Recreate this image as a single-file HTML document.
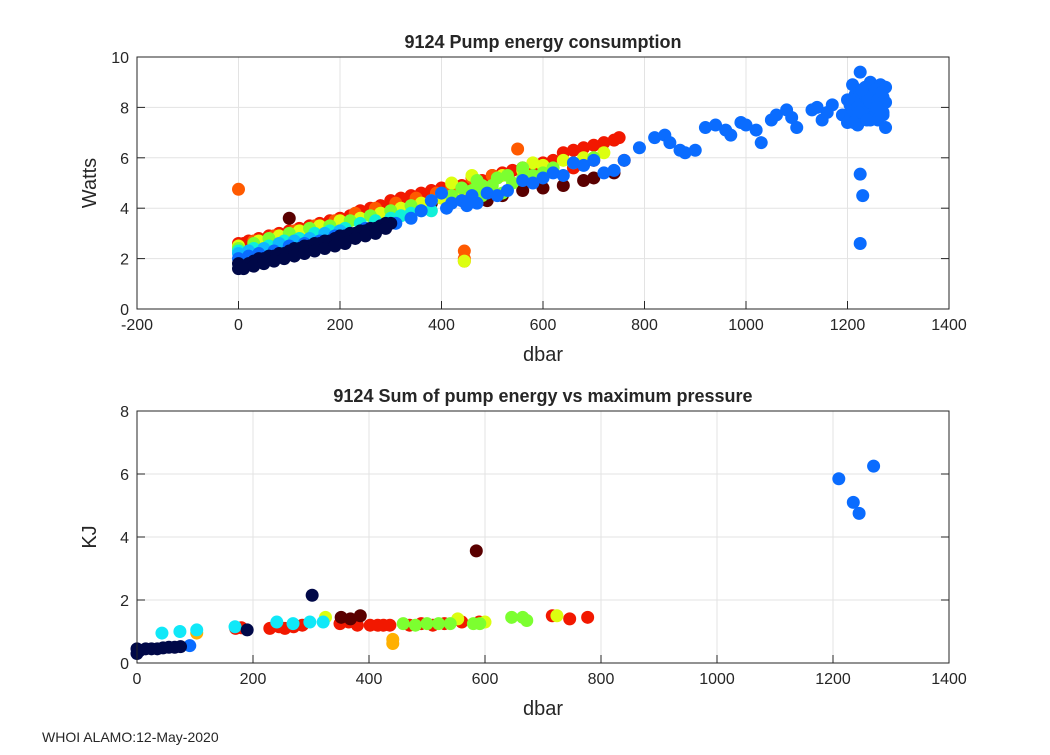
<!DOCTYPE html>
<html><head><meta charset="utf-8"><style>
body{margin:0;background:#fff;}
svg text{font-family:"Liberation Sans",Arial,sans-serif;fill:#262626;}
</style></head><body>
<svg id="fig" width="1050" height="750" viewBox="0 0 1050 750">
<rect width="1050" height="750" fill="#fff"/>
<g id="top"></g>
<g id="bot"></g>
<text x="42" y="742" font-size="14" fill="#000">WHOI ALAMO:12-May-2020</text>
</svg>
<script>
// ---- top chart data ----
const topXTicks = [-200,0,200,400,600,800,1000,1200,1400];
const topYTicks = [0,2,4,6,8,10];
const redX = [0,10,20,40,60,80,100,120,140,160,180,200,220,240,260,280,300,320,340,360,380,400,420,440,460,480,500,520,540,560,580,600,620,640,660,680,700,720,740,750,760,700,660];
const redY = [2.6,2.6,2.7,2.8,2.9,3.0,3.1,3.2,3.3,3.4,3.5,3.6,3.7,3.9,4.0,4.1,4.3,4.4,4.5,4.6,4.7,4.8,4.9,4.9,5.0,5.1,5.3,5.4,5.5,5.6,5.6,5.8,5.9,6.2,6.3,6.4,6.5,6.6,6.7,6.8,5.9,5.9,5.6];
const orangeX = [0,30,70,110,150,190,230,270,310,350,390,430,470,510,550,445,445,445,420,460,500];
const orangeY = [4.75,2.7,2.9,3.1,3.3,3.5,3.8,4.0,4.2,4.4,4.6,4.8,5.0,5.2,6.35,2.3,2.0,1.9,4.9,5.2,5.3];
const maroonX = [100,380,420,460,490,520,560,600,640,680,700,740,280,300];
const maroonY = [3.6,4.2,4.4,4.3,4.3,4.5,4.7,4.8,4.9,5.1,5.2,5.4,3.5,3.6];
const yellowX = [0,40,80,120,160,200,240,280,320,360,400,440,480,520,560,600,640,680,720,445,420,460,580,700];
const yellowY = [2.5,2.7,2.9,3.1,3.3,3.5,3.6,3.8,4.0,4.2,4.4,4.6,4.8,5.3,5.5,5.7,5.9,6.0,6.2,1.9,5.0,5.3,5.8,6.0];
const greenX = [0,30,60,100,140,180,220,260,300,340,380,420,460,480,500,520,540,560,580,600,620,660,700,440,470,480,510,530,560];
const greenY = [2.4,2.6,2.8,3.0,3.2,3.3,3.5,3.7,3.9,4.1,4.3,4.5,4.7,4.5,4.9,4.6,5.0,5.2,5.3,5.4,5.6,5.8,6.0,4.8,5.1,4.9,5.2,5.3,5.6];
const cyanX = [0,30,60,90,120,150,180,210,240,270,300,320,340,360,380,10,40];
const cyanY = [2.3,2.4,2.5,2.7,2.8,3.0,3.1,3.2,3.4,3.5,3.6,3.7,3.8,3.9,3.9,1.9,2.0];
const lblueX = [0,20,50,80,110,140,170,200];
const lblueY = [2.2,2.3,2.4,2.6,2.7,2.8,3.0,3.1];
const blueX = [0,20,40,70,100,130,160,190,220,250,280,310,340,360,380,400,410,420,440,450,460,470,490,510,530,560,580,600,620,640,660,680,700,720,740,760,790,820,840,850,870,880,900,920,940,960,970,990,1000,1020,1030,1050,1060,1080,1090,1100,1130,1140,1150,1160,1170,1190,1200,1205,1210,1215,1220,1225,1230,1235,1240,1245,1250,1255,1260,1265,1270,1275,1200,1210,1220,1230,1240,1250,1260,1270,1275,1205,1215,1225,1235,1245,1255,1265,1275,1210,1220,1230,1240,1250,1260,1270,1225,1230,1225,1228,1222,1245,1258,1268,1212,1238];
const blueY = [2.0,2.1,2.2,2.3,2.5,2.6,2.7,2.9,3.0,3.2,3.3,3.4,3.6,3.9,4.3,4.6,4.0,4.2,4.3,4.1,4.5,4.2,4.6,4.5,4.7,5.1,5.0,5.2,5.4,5.3,5.8,5.7,5.9,5.4,5.5,5.9,6.4,6.8,6.9,6.6,6.3,6.2,6.3,7.2,7.3,7.1,6.9,7.4,7.3,7.1,6.6,7.5,7.7,7.9,7.6,7.2,7.9,8.0,7.5,7.8,8.1,7.7,8.3,7.8,8.0,8.5,7.6,9.4,8.2,8.8,7.9,9.0,8.1,8.6,7.5,8.9,8.4,8.8,7.4,7.9,7.3,8.4,7.6,8.0,8.2,7.7,7.2,8.1,8.3,8.6,8.5,8.2,8.7,7.9,8.2,8.9,8.0,7.8,8.4,7.6,8.3,7.8,5.35,4.5,2.6,8.7,7.8,7.5,8.0,8.6,7.4,7.5];
const navyX = [0,0,10,20,30,40,50,60,70,80,90,100,110,120,130,140,150,160,170,180,190,200,210,220,230,240,250,260,270,280,290,300,10,30,50,70,90,110,130,150,170,190,210,230,250,270,290];
const navyY = [1.6,1.8,1.7,1.8,1.9,2.0,2.0,2.1,2.1,2.2,2.2,2.3,2.4,2.4,2.5,2.5,2.6,2.6,2.7,2.7,2.8,2.9,2.9,3.0,3.0,3.1,3.1,3.2,3.2,3.3,3.4,3.4,1.6,1.7,1.8,1.9,2.0,2.1,2.2,2.3,2.4,2.5,2.6,2.8,2.9,3.0,3.2];
// ---- bottom chart data ----
const botXTicks = [0,200,400,600,800,1000,1200,1400];
const botYTicks = [0,2,4,6,8];
const bRedX = [170,180,229,245,255,270,285,350,365,380,402,415,425,436,470,490,510,530,560,590,716,746,777];
const bRedY = [1.1,1.12,1.1,1.15,1.1,1.15,1.2,1.25,1.3,1.2,1.2,1.2,1.2,1.2,1.2,1.25,1.2,1.25,1.3,1.3,1.5,1.4,1.45];
const bOrangeX = [103,441,441];
const bOrangeY = [0.95,0.75,0.62];
const bMaroonX = [352,368,385,585];
const bMaroonY = [1.45,1.4,1.5,3.56];
const bYellowX = [325,553,600,724];
const bYellowY = [1.45,1.4,1.3,1.5];
const bGreenX = [459,480,500,520,540,580,591,646,665,672];
const bGreenY = [1.25,1.2,1.25,1.25,1.25,1.25,1.25,1.45,1.45,1.35];
const bCyanX = [43,74,103,169,241,269,298,321];
const bCyanY = [0.95,1.0,1.05,1.15,1.3,1.25,1.3,1.3];
const bBlueX = [91,1210,1235,1245,1270];
const bBlueY = [0.55,5.85,5.1,4.75,6.25];
const bNavyX = [0,0,5,15,25,35,45,55,65,75,190,302];
const bNavyY = [0.3,0.45,0.4,0.45,0.45,0.45,0.48,0.5,0.5,0.52,1.05,2.15];

const NS='http://www.w3.org/2000/svg';
function mk(tag,attrs,parent){const e=document.createElementNS(NS,tag);for(const k in attrs)e.setAttribute(k,attrs[k]);parent.appendChild(e);return e;}

function axes(g,L,R,T,B,xmin,xmax,ymin,ymax,xt,yt,title,ylab,prefix){
  const sx=v=>L+(v-xmin)/(xmax-xmin)*(R-L);
  const sy=v=>B-(v-ymin)/(ymax-ymin)*(B-T);
  const bg=mk('rect',{x:L,y:T,width:R-L,height:B-T,fill:'#fff'},g);
  
  
  xt.forEach(v=>{
    const l=mk('line',{x1:sx(v),x2:sx(v),y1:T,y2:B,stroke:'#e3e3e3','stroke-width':1},g);
    
    
    const t=mk('line',{x1:sx(v),x2:sx(v),y1:B,y2:B-8,stroke:'#262626'},g);
    
    
    const tx=mk('text',{x:sx(v),y:B+21,'font-size':16,'text-anchor':'middle'},g);tx.textContent=v;
    
    
  });
  yt.forEach(v=>{
    const l=mk('line',{x1:L,x2:R,y1:sy(v),y2:sy(v),stroke:'#e3e3e3','stroke-width':1},g);
    
    
    const t=mk('line',{x1:L,x2:L+8,y1:sy(v),y2:sy(v),stroke:'#262626'},g);
    
    
    const t2=mk('line',{x1:R,x2:R-8,y1:sy(v),y2:sy(v),stroke:'#262626'},g);
    
    
    const tx=mk('text',{x:L-8,y:sy(v)+6,'font-size':16,'text-anchor':'end'},g);tx.textContent=v;
    
    
  });
  const tt=mk('text',{x:(L+R)/2,y:T-9,'font-size':18,'font-weight':'bold','text-anchor':'middle',fill:'#000'},g);tt.textContent=title;
  
  
  const xl=mk('text',{x:(L+R)/2,y:B+52,'font-size':20,'text-anchor':'middle'},g);xl.textContent='dbar';
  
  
  const yl=mk('text',{x:0,y:0,'font-size':20,'text-anchor':'middle',transform:`translate(96,${(T+B)/2}) rotate(-90)`},g);yl.textContent=ylab;
  
  
  return {sx,sy,finish:()=>{
    const b=mk('rect',{x:L,y:T,width:R-L,height:B-T,fill:'none',stroke:'#262626','stroke-width':1},g);
    
    
  }};
}
function scatter(g,ax,xs,ys,color,name){
  xs.forEach((x,i)=>{
    const c=mk('circle',{cx:ax.sx(x),cy:ax.sy(ys[i]),r:6.5,fill:color},g);
    
    
  });
}
const gt=document.getElementById('top');
const at=axes(gt,137,949,57,309,-200,1400,0,10,topXTicks,topYTicks,'9124 Pump energy consumption','Watts','top');
scatter(gt,at,redX,redY,'#f21800','point-red');
scatter(gt,at,maroonX,maroonY,'#5a0000','point-maroon');
scatter(gt,at,orangeX,orangeY,'#ff5a00','point-orange');
scatter(gt,at,yellowX,yellowY,'#dcff10','point-yellow');
scatter(gt,at,greenX,greenY,'#7cff30','point-green');
scatter(gt,at,cyanX,cyanY,'#10f0d8','point-cyan');
scatter(gt,at,lblueX,lblueY,'#10b8ff','point-lightblue');
scatter(gt,at,blueX,blueY,'#0a6cff','point-blue');
scatter(gt,at,navyX,navyY,'#000848','point-navy');
at.finish();
const gb=document.getElementById('bot');
const ab=axes(gb,137,949,411,663,0,1400,0,8,botXTicks,botYTicks,'9124 Sum of pump energy vs maximum pressure','KJ','bottom');
scatter(gb,ab,bRedX,bRedY,'#f21800','sum-point-red');
scatter(gb,ab,bMaroonX,bMaroonY,'#5a0000','sum-point-maroon');
scatter(gb,ab,bOrangeX,bOrangeY,'#ffb000','sum-point-orange');
scatter(gb,ab,bYellowX,bYellowY,'#dcff10','sum-point-yellow');
scatter(gb,ab,bGreenX,bGreenY,'#7cff30','sum-point-green');
scatter(gb,ab,bCyanX,bCyanY,'#10e8f8','sum-point-cyan');
scatter(gb,ab,bBlueX,bBlueY,'#0a6cff','sum-point-blue');
scatter(gb,ab,bNavyX,bNavyY,'#000848','sum-point-navy');
ab.finish();
</script>
</body></html>
